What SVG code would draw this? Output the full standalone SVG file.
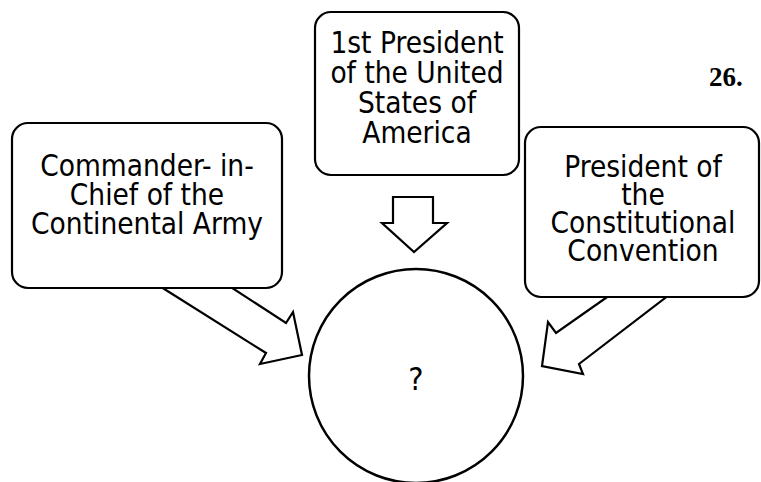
<svg xmlns="http://www.w3.org/2000/svg" width="761" height="482" viewBox="0 0 761 482">
<style>
.box{fill:#fff;stroke:#000;stroke-width:2.2}
.arr{fill:#fff;stroke:#000;stroke-width:2.2;stroke-linejoin:miter}
.t{font-family:"DejaVu Sans Condensed","DejaVu Sans",sans-serif;font-stretch:condensed;font-size:29.5px;fill:#000;text-anchor:middle}
.num{font-family:"Liberation Serif","Times New Roman",serif;font-weight:bold;font-size:27px;fill:#000}
</style>
<rect width="761" height="482" fill="#fff"/>
<g id="connectors">
<polygon class="arr" points="393,197 433,197 433,223 447,223 414,252 382,223 393,223"/>
<polygon class="arr" points="220,280 286,323 293,312 302,355 260,364 266,353 150,280"/>
<polygon class="arr" points="620,288 556,333 548,322 542,366 583,374 579,364 678,288"/>
</g>
<g id="node-commander">
<rect class="box" x="12" y="123" width="270" height="165" rx="16"/>
<text class="t" x="147" y="176">Commander- in-</text>
<text class="t" x="147" y="205">Chief of the</text>
<text class="t" x="147" y="234">Continental Army</text>
</g>
<g id="node-president">
<rect class="box" x="315" y="12" width="204" height="163" rx="16"/>
<text class="t" x="417" y="53">1st President</text>
<text class="t" x="417" y="83">of the United</text>
<text class="t" x="417" y="113">States of</text>
<text class="t" x="417" y="143">America</text>
</g>
<g id="node-convention">
<rect class="box" x="525" y="127" width="234" height="170" rx="16"/>
<text class="t" x="643" y="177">President of</text>
<text class="t" x="643" y="205">the</text>
<text class="t" x="643" y="233">Constitutional</text>
<text class="t" x="643" y="261">Convention</text>
</g>
<g id="node-answer">
<circle cx="416" cy="376" r="107" fill="#fff" stroke="#000" stroke-width="2.5"/>
<text class="t" x="416" y="390" style="font-size:32px">?</text>
</g>
<text class="num" x="709" y="86">26.</text>
</svg>
